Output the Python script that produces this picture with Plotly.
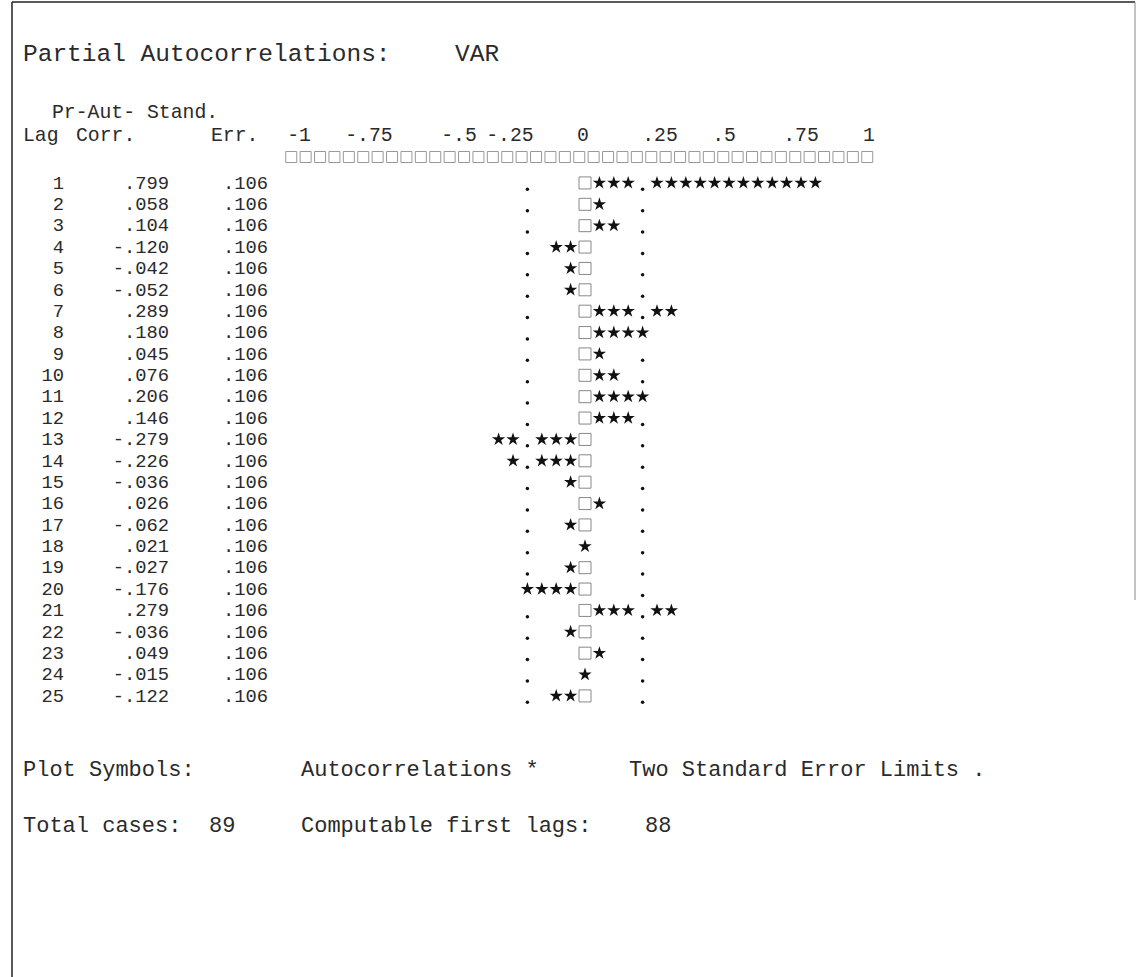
import numpy as np
import plotly.graph_objects as go

# ---------------- data ----------------
lags = list(range(1, 26))
pacf = [0.799, 0.058, 0.104, -0.120, -0.042, -0.052, 0.289, 0.180, 0.045, 0.076,
        0.206, 0.146, -0.279, -0.226, -0.036, 0.026, -0.062, 0.021, -0.027, -0.176,
        0.279, -0.036, 0.049, -0.015, -0.122]
std_err = [0.106] * 25
scale_labels = ["-1", "-.75", "-.5", "-.25", "0", ".25", ".5", ".75", "1"]
var_name = "VAR"
total_cases = 89
computable_lags = 88

# ---------------- layout helpers ----------------
W, H = 1138, 977
X0 = 585.0          # pixel of zero column
PITCH = 14.4        # pixels per plot column
STEP = 0.05         # correlation per column
PXU = PITCH / STEP
Y1, ROWH = 184.0, 21.375

def px2x(px):
    return (px - X0) / PXU

def py2y(py):
    return 1 + (py - Y1) / ROWH

FONT = "Liberation Mono"
FS = 23
FS_ROW = 18.8
INK = "#2a2a2a"

def fmt(v):
    s = f"{v:.3f}"
    return s.replace("0.", ".", 1)

# ---------------- build plot symbols ----------------
star_x, star_y, dot_x, dot_y, box_x, box_y = [], [], [], [], [], []
for lag, r, se in zip(lags, pacf, std_err):
    n = int(np.floor(abs(r) / STEP + 0.5))
    lim = int(np.floor(2 * se / STEP + 0.5))
    s = 1 if r >= 0 else -1
    if n == 0:
        star_x.append(0.0); star_y.append(lag)
    else:
        box_x.append(0.0); box_y.append(lag)
        for k in range(1, n + 1):
            if k == lim and n > lim:
                continue
            star_x.append(s * k * STEP); star_y.append(lag)
    for side in (-1, 1):
        if side == s and n == lim:
            continue
        dot_x.append(side * lim * STEP); dot_y.append(lag + 0.25)

fig = go.Figure()

# table columns
for right_px, vals in ((64, [str(l) for l in lags]),
                       (169, [fmt(v) for v in pacf]),
                       (268, [fmt(v) for v in std_err])):
    fig.add_trace(go.Scatter(x=[px2x(right_px)] * len(lags), y=lags, mode="text",
                             text=vals, textposition="middle left",
                             textfont=dict(family=FONT, size=FS_ROW, color=INK), hoverinfo="skip"))

# zero boxes
fig.add_trace(go.Scatter(x=box_x, y=[y - 0.05 for y in box_y], mode="markers",
                         marker=dict(symbol="square-open", size=12, color="#888",
                                     line=dict(width=1, color="#888")),
                         hoverinfo="skip"))
# stars
fig.add_trace(go.Scatter(x=star_x, y=[y - 0.05 for y in star_y], mode="markers",
                         marker=dict(symbol="star", size=10, color="#111", line=dict(width=0)),
                         hoverinfo="skip"))
# standard error limit dots
fig.add_trace(go.Scatter(x=dot_x, y=dot_y, mode="markers",
                         marker=dict(symbol="circle", size=3.5, color="#111", line=dict(width=0)),
                         hoverinfo="skip"))

# scale row of boxes
cols = np.arange(-20, 21)
fig.add_trace(go.Scatter(x=cols * STEP - 0.02, y=[py2y(157)] * len(cols), mode="markers",
                         marker=dict(symbol="square-open", size=11, color="#999",
                                     line=dict(width=1, color="#999")),
                         hoverinfo="skip"))

# scale labels
label_px = [299, 369, 459, 510, 583, 660, 724, 801, 869]
fig.add_trace(go.Scatter(x=[px2x(p) for p in label_px], y=[py2y(136)] * len(label_px), mode="text",
                         text=scale_labels, textposition="middle center",
                         textfont=dict(family=FONT, size=FS_ROW + 1, color=INK), hoverinfo="skip"))

def ann(txt, px, py, size=FS):
    fig.add_annotation(x=px / W, y=1 - py / H, xref="paper", yref="paper", text=txt,
                       showarrow=False, xanchor="left", yanchor="middle",
                       font=dict(family=FONT, size=size, color=INK))

ann("Partial Autocorrelations:", 21, 54, 24.5)
ann(var_name, 453, 54, 24.5)
ann("Pr-Aut- Stand.", 50, 113, FS_ROW + 1)
ann("Lag", 21, 136, FS_ROW + 1)
ann("Corr.", 74, 136, FS_ROW + 1)
ann("Err.", 209, 136, FS_ROW + 1)
ann("Plot Symbols:", 21, 770, 22)
ann("Autocorrelations *", 299, 770, 22)
ann("Two Standard Error Limits .", 627, 770, 22)
ann("Total cases:", 21, 826, 22)
ann(str(total_cases), 207, 826, 22)
ann("Computable first lags:", 299, 826, 22)
ann(str(computable_lags), 643, 826, 22)

# frame
fig.add_shape(type="line", xref="paper", yref="paper", x0=12 / W, x1=1135 / W, y0=1 - 2 / H, y1=1 - 2 / H,
              line=dict(color="#222", width=1.5))
fig.add_shape(type="line", xref="paper", yref="paper", x0=12 / W, x1=12 / W, y0=0, y1=1 - 2 / H,
              line=dict(color="#222", width=1.5))
fig.add_shape(type="line", xref="paper", yref="paper", x0=1135 / W, x1=1135 / W, y0=1 - 600 / H, y1=1 - 2 / H,
              line=dict(color="#888", width=1))

fig.update_layout(
    width=W, height=H, margin=dict(l=0, r=0, t=0, b=0),
    paper_bgcolor="white", plot_bgcolor="white", showlegend=False,
    xaxis=dict(range=[px2x(0), px2x(W)], visible=False, fixedrange=True),
    yaxis=dict(range=[py2y(H), py2y(0)], visible=False, fixedrange=True),
)

fig.write_html("out.html", config={"displayModeBar": False},
               post_script="document.body.style.margin='0';document.body.style.overflow='hidden';")
